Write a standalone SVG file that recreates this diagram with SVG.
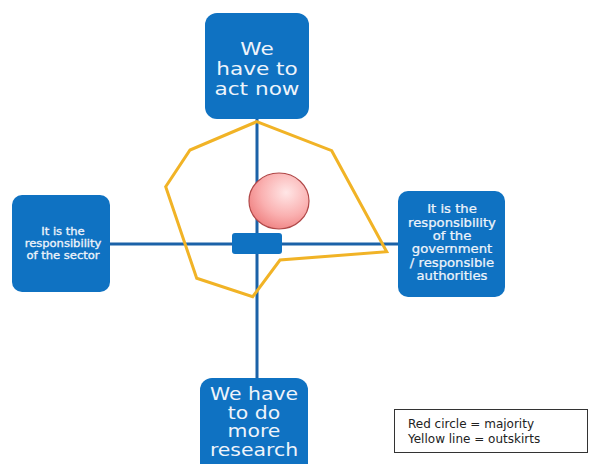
<svg xmlns="http://www.w3.org/2000/svg" width="590" height="464" viewBox="0 0 590 464">
  <defs>
    <style>
      .box { fill: #0f72c2; }
      .axis { stroke: #1b62a8; stroke-width: 3; fill: none; }
      .lbl { font-family: "DejaVu Sans", Verdana, sans-serif; fill: #eef4fb; text-anchor: middle; }
      .big { font-size: 18px; }
      .mid { font-size: 12px; stroke: #eef4fb; stroke-width: 0.25; }
      .sml { font-size: 10.5px; stroke: #eef4fb; stroke-width: 0.3; }
      .leg { font-family: "DejaVu Sans", Verdana, sans-serif; font-size: 12px; fill: #222; }
    </style>
    <radialGradient id="redGrad" cx="0.62" cy="0.35" r="0.7">
      <stop offset="0" stop-color="#ffe6e6"/>
      <stop offset="0.6" stop-color="#fab0b0"/>
      <stop offset="1" stop-color="#ef8282"/>
    </radialGradient>
  </defs>
  <rect width="590" height="464" fill="#ffffff"/>

  <g id="connectors">
    <line class="axis" x1="257" y1="118" x2="257" y2="380"/>
    <line class="axis" x1="110" y1="244" x2="398" y2="244"/>
  </g>

  <g id="outskirts">
    <polygon points="256.7,121.7 190,150 165.7,186.7 196.7,278.3 252.7,296.7 280,260 386.7,251.7 331.7,150.7" fill="none" stroke="#f1b326" stroke-width="3" stroke-linejoin="miter"/>
  </g>

  <g id="majority">
    <ellipse cx="279" cy="201" rx="30" ry="28" fill="url(#redGrad)" stroke="#b04848" stroke-width="1.2"/>
  </g>

  <g id="center">
    <rect class="box" x="232" y="233" width="50" height="21" rx="3"/>
  </g>

  <g id="node-top">
    <rect class="box" x="205" y="13" width="104" height="106" rx="12"/>
    <g transform="translate(257,0) scale(1.2,1)">
      <text class="lbl big" x="0" y="55">We</text>
      <text class="lbl big" x="0" y="75">have to</text>
      <text class="lbl big" x="0" y="95">act now</text>
    </g>
  </g>

  <g id="node-left">
    <rect class="box" x="12" y="195" width="98" height="97" rx="10"/>
    <g transform="translate(63,0) scale(1.1,1)">
      <text class="lbl sml" x="0" y="235">It is the</text>
      <text class="lbl sml" x="0" y="247">responsibility</text>
      <text class="lbl sml" x="0" y="259">of the sector</text>
    </g>
  </g>

  <g id="node-right">
    <rect class="box" x="398" y="191" width="107" height="106" rx="10"/>
    <g transform="translate(452,0) scale(1.1,1)">
      <text class="lbl mid" x="0" y="213">It is the</text>
      <text class="lbl mid" x="0" y="227">responsibility</text>
      <text class="lbl mid" x="0" y="240">of the</text>
      <text class="lbl mid" x="0" y="253">government</text>
      <text class="lbl mid" x="0" y="267">/ responsible</text>
      <text class="lbl mid" x="0" y="280">authorities</text>
    </g>
  </g>

  <g id="node-bottom">
    <rect class="box" x="200" y="378" width="108" height="100" rx="12"/>
    <g transform="translate(254,0) scale(1.2,1)">
      <text class="lbl big" x="0" y="400" style="font-size:17px">We have</text>
      <text class="lbl big" x="0" y="419" style="font-size:17px">to do</text>
      <text class="lbl big" x="0" y="437" style="font-size:17px">more</text>
      <text class="lbl big" x="0" y="456" style="font-size:17px">research</text>
    </g>
  </g>

  <g id="legend">
    <rect x="394.5" y="409.5" width="193" height="43" fill="#ffffff" stroke="#333333" stroke-width="1"/>
    <text class="leg" x="408" y="428">Red circle = majority</text>
    <text class="leg" x="408" y="443">Yellow line = outskirts</text>
  </g>
</svg>
